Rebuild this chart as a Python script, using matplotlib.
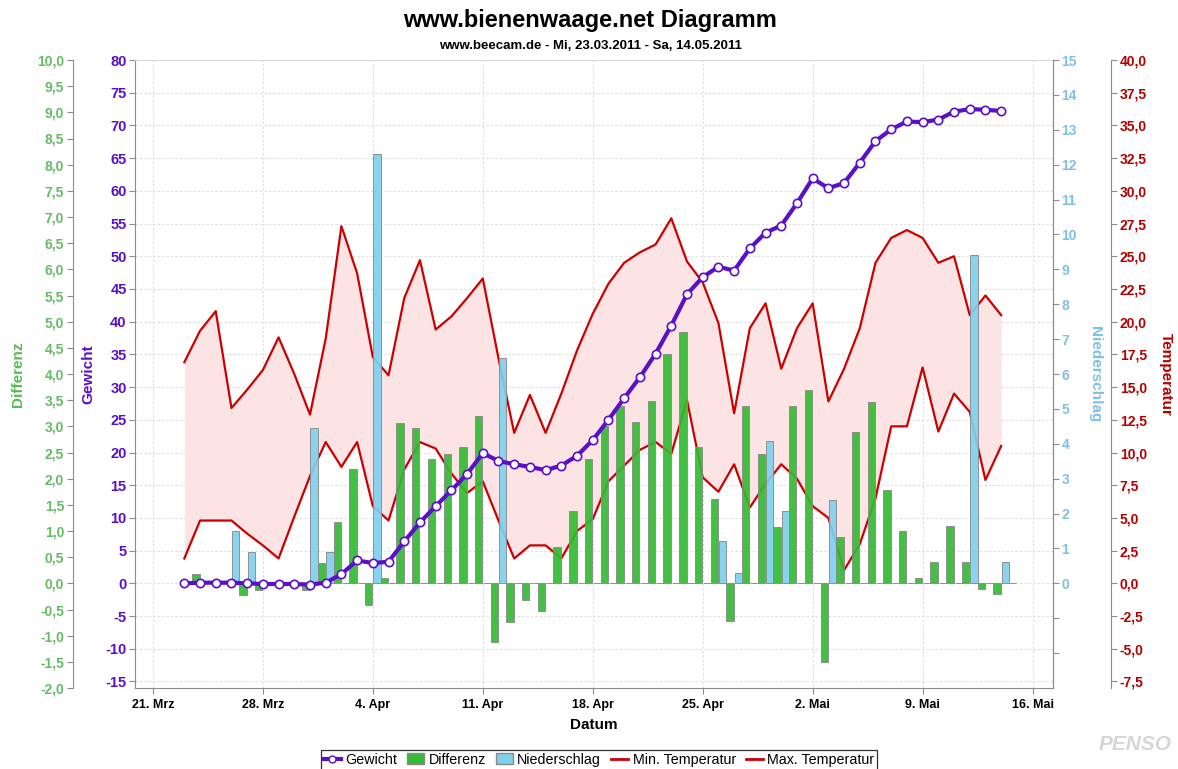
import matplotlib
matplotlib.use('Agg')
import matplotlib.pyplot as plt
import matplotlib.dates as mdates
from matplotlib.lines import Line2D
from matplotlib.patches import Patch
from matplotlib.ticker import FixedLocator, FuncFormatter
import numpy as np
import pandas as pd

plt.rcParams['font.family'] = ['Liberation Sans', 'DejaVu Sans']
plt.rcParams['font.weight'] = 'bold'
plt.rcParams['axes.unicode_minus'] = False

# Tage 23.03.2011 - 14.05.2011
days = pd.date_range('2011-03-23', '2011-05-14', freq='D')

gewicht = [0, 0.1, 0.1, 0.1, 0, -0.1, -0.1, -0.1, -0.2, 0.1, 1.4, 3.5, 3.1,
           3.3, 6.4, 9.3, 11.8, 14.2, 16.7, 19.9, 18.7, 18.2, 17.8, 17.3, 18.0, 19.5,
           21.9, 25.0, 28.3, 31.5, 35.1, 39.4, 44.2, 46.8, 48.4, 47.8, 51.2, 53.6, 54.7,
           58.1, 61.9, 60.4, 61.2, 64.3, 67.6, 69.4, 70.6, 70.5, 70.9, 72.1, 72.5, 72.4, 72.2]

differenz = [0.18, 0, 0.02, -0.22, -0.12, 0, 0, -0.12, 0.39, 1.18, 2.18, -0.42, 0.1,
             3.07, 2.97, 2.38, 2.47, 2.6, 3.2, -1.12, -0.74, -0.32, -0.52, 0.69, 1.38, 2.38,
             3.0, 3.38, 3.09, 3.48, 4.39, 4.81, 2.6, 1.61, -0.72, 3.38, 2.48, 1.08, 3.38,
             3.69, -1.5, 0.89, 2.9, 3.47, 1.78, 1.0, 0.1, 0.4, 1.09, 0.4, -0.11, -0.21, 0]

niederschlag = [0, 0, 0, 1.5, 0.9, 0, 0, 0, 4.45, 0.9, 0, 0, 12.3,
                0, 0, 0, 0, 0, 0, 0, 6.45, 0, 0, 0, 0, 0,
                0, 0, 0, 0, 0, 0, 0, 0, 1.2, 0.3, 0, 4.07, 2.08,
                0, 0, 2.4, 0, 0, 0, 0, 0, 0, 0, 0, 9.4, 0, 0.6]

max_temp = [16.9, 19.3, 20.8, 13.4, 14.8, 16.3, 18.8, 16.0, 12.9, 18.7, 27.3, 23.7, 17.3,
            15.9, 21.8, 24.7, 19.4, 20.4, 21.8, 23.3, 17.2, 11.5, 14.4, 11.5, 14.5, 17.8,
            20.6, 22.9, 24.5, 25.3, 25.9, 27.9, 24.6, 23.0, 19.9, 13.0, 19.5, 21.4, 16.4,
            19.5, 21.4, 13.9, 16.4, 19.5, 24.5, 26.4, 27.0, 26.4, 24.5, 25.0, 20.5, 22.0, 20.5]

min_temp = [1.9, 4.8, 4.8, 4.8, 3.8, 2.9, 1.9, 5.1, 8.2, 10.8, 8.9, 10.8, 5.9,
            4.8, 8.7, 10.8, 10.3, 8.4, 6.9, 7.8, 4.8, 1.9, 2.9, 2.9, 1.9, 4.0,
            4.9, 7.8, 9.0, 10.2, 10.8, 9.9, 14.0, 8.1, 7.0, 9.1, 5.8, 7.6, 9.1,
            8.0, 5.9, 5.0, 1.0, 3.0, 6.5, 12.0, 12.0, 16.5, 11.6, 14.5, 13.1, 7.9, 10.5]

tick_dates = pd.date_range('2011-03-21', '2011-05-16', freq='7D')
tick_labels = ['21. Mrz', '28. Mrz', '4. Apr', '11. Apr', '18. Apr',
               '25. Apr', '2. Mai', '9. Mai', '16. Mai']

# Farben
PURPLE = '#5a0fc8'
GREEN = '#33bb33'
BLUE = '#7fd0ee'
RED = '#cc0000'
FILL = '#fde4e4'
SPINE = '#8c8c8c'

W, H = 1178, 769
fig = plt.figure(figsize=(W / 100, H / 100), dpi=100)


def px(x, y):
    return x / W, 1 - y / H


left, top = px(135, 60)
right, bottom = px(1053, 688)
ax = fig.add_axes([left, bottom, right - left, top - bottom])

x = mdates.date2num(days)
ticks_x = mdates.date2num(tick_dates)


def comma(v, p):
    return f'{v:.1f}'.replace('.', ',')


def only_spine(a, name):
    for s in a.spines.values():
        s.set_visible(False)
    a.spines[name].set_visible(True)
    a.spines[name].set_color(SPINE)


# Gewicht-Achse (Hauptachse, Gitter)
ax.set_xlim(x[0] - 3.14, x[0] + 55.3)
ax.set_ylim(-16, 80)
ax.yaxis.set_major_locator(FixedLocator(np.arange(-15, 81, 5)))
ax.xaxis.set_major_locator(FixedLocator(ticks_x))
ax.set_xticklabels(tick_labels)
ax.grid(True, color='#dcdcdc', linestyle=(0, (2, 2)), linewidth=0.8)
ax.set_axisbelow(True)
for s in ['left', 'bottom', 'right', 'top']:
    ax.spines[s].set_color(SPINE)
ax.spines['top'].set_color('#d8d8d8')
ax.tick_params(axis='y', colors=SPINE, labelcolor=PURPLE, labelsize=10.5, length=4, pad=2)
ax.tick_params(axis='x', colors=SPINE, labelcolor='black', labelsize=9, length=4, pad=4)

# Temperatur (rechts aussen)
ax_t = ax.twinx()
only_spine(ax_t, 'right')
ax_t.spines['right'].set_position(('outward', 42))
ax_t.set_ylim(-8, 40)
ax_t.yaxis.set_major_locator(FixedLocator(np.arange(-7.5, 40.1, 2.5)))
ax_t.yaxis.set_major_formatter(FuncFormatter(comma))
ax_t.tick_params(axis='y', colors=SPINE, labelcolor='#b30000', labelsize=10, length=4, pad=2)
ax_t.fill_between(x, min_temp, max_temp, color=FILL, linewidth=0, zorder=1)
ax_t.plot(x, min_temp, color=RED, linewidth=1.6, zorder=2)
ax_t.plot(x, max_temp, color=RED, linewidth=1.6, zorder=2)

# Niederschlag (rechts)
ax_n = ax.twinx()
only_spine(ax_n, 'right')
ax_n.set_ylim(-3, 15)
ax_n.yaxis.set_major_locator(FixedLocator(np.arange(-2, 16, 1)))
ax_n.yaxis.set_major_formatter(FuncFormatter(lambda v, p: '' if v < 0 else f'{v:.0f}'))
ax_n.tick_params(axis='y', colors=SPINE, labelcolor='#7ec0e4', labelsize=10, length=4, pad=2)
ax_n.bar(x + 0.03, niederschlag, width=0.47, align='edge', color=BLUE,
         edgecolor='#8a8a8a', linewidth=0.7, alpha=0.92)

# Differenz (links aussen)
ax_d = ax.twinx()
only_spine(ax_d, 'left')
ax_d.yaxis.tick_left()
ax_d.spines['left'].set_position(('outward', 45))
ax_d.set_ylim(-2, 10)
ax_d.yaxis.set_major_locator(FixedLocator(np.arange(-2, 10.01, 0.5)))
ax_d.yaxis.set_major_formatter(FuncFormatter(comma))
ax_d.tick_params(axis='y', colors=SPINE, labelcolor='#66bb66', labelsize=10, length=4, pad=2)
ax_d.bar(x + 0.5, differenz, width=0.47, align='edge', color=GREEN,
         edgecolor='#8a8a8a', linewidth=0.7, alpha=0.92)

# Gewicht-Linie obenauf
ax_g = ax.twinx()
for s in ax_g.spines.values():
    s.set_visible(False)
ax_g.set_ylim(ax.get_ylim())
ax_g.set_yticks([])
ax_g.plot(x, gewicht, color=PURPLE, linewidth=3, marker='o', markersize=6,
          markerfacecolor='white', markeredgecolor=PURPLE, markeredgewidth=1.2)

# Achsentitel
fig.text(*px(18, 374), 'Differenz', rotation=90, ha='center', va='center',
         color='#55bb55', fontsize=11)
fig.text(*px(88, 374), 'Gewicht', rotation=90, ha='center', va='center',
         color=PURPLE, fontsize=11)
fig.text(*px(1095, 374), 'Niederschlag', rotation=270, ha='center', va='center',
         color='#7ec0e4', fontsize=11)
fig.text(*px(1166, 374), 'Temperatur', rotation=270, ha='center', va='center',
         color='#b30000', fontsize=11)
fig.text(*px(594, 725), 'Datum', ha='center', va='center', fontsize=11)

fig.text(*px(590, 20), 'www.bienenwaage.net Diagramm', ha='center', va='center', fontsize=17)
fig.text(*px(590, 46), 'www.beecam.de - Mi, 23.03.2011 - Sa, 14.05.2011',
         ha='center', va='center', fontsize=9.5)

# Wasserzeichen
fig.text(*px(1172, 745), 'PENSO', ha='right', va='center', fontsize=15, style='italic',
         color='#d6d6d6')

handles = [
    Line2D([], [], color=PURPLE, linewidth=3, marker='o', markersize=5,
           markerfacecolor='white', markeredgecolor=PURPLE),
    Patch(facecolor=GREEN, edgecolor='#8a8a8a'),
    Patch(facecolor=BLUE, edgecolor='#8a8a8a'),
    Line2D([], [], color=RED, linewidth=2),
    Line2D([], [], color=RED, linewidth=2),
]
labels = ['Gewicht', 'Differenz', 'Niederschlag', 'Min. Temperatur', 'Max. Temperatur']
leg = fig.legend(handles, labels, loc='upper center', bbox_to_anchor=px(599, 750), ncol=5,
                 frameon=True, fancybox=False, edgecolor='#333333', framealpha=1,
                 prop={'weight': 'normal', 'size': 10.3}, handlelength=1.2,
                 handletextpad=0.3, columnspacing=0.7, borderpad=0.2,
                 handleheight=0.8, borderaxespad=0)
leg.get_frame().set_linewidth(0.9)

fig.savefig('out.png', dpi=100)
